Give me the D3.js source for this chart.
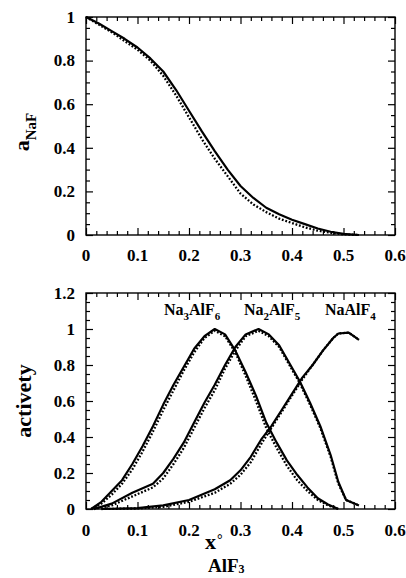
<!DOCTYPE html>
<html><head><meta charset="utf-8">
<script src="https://cdn.jsdelivr.net/npm/d3@7"></script>
<style>
html,body{margin:0;padding:0;background:#fff;}
svg{display:block;}
text{font-family:"Liberation Serif","Times New Roman",serif;font-weight:bold;fill:#000;}
</style></head>
<body>
<script>
// ---------- data ----------
const xTicks = [0, 0.1, 0.2, 0.3, 0.4, 0.5, 0.6];
const xTickLabels = ["0", "0.1", "0.2", "0.3", "0.4", "0.5", "0.6"];
const topYTicks = [0, 0.2, 0.4, 0.6, 0.8, 1];
const topYTickLabels = ["0", "0.2", "0.4", "0.6", "0.8", "1"];
const botYTicks = [0, 0.2, 0.4, 0.6, 0.8, 1, 1.2];
const botYTickLabels = ["0", "0.2", "0.4", "0.6", "0.8", "1", "1.2"];

// top panel: a_NaF
const naF_x = [0, 0.025, 0.05, 0.075, 0.1, 0.125, 0.15, 0.175, 0.2, 0.225, 0.25, 0.275, 0.3, 0.325, 0.35, 0.375, 0.4, 0.425, 0.45, 0.475, 0.5, 0.53];
const naF_solid = [1.0, 0.97, 0.935, 0.9, 0.86, 0.81, 0.75, 0.665, 0.57, 0.475, 0.385, 0.3, 0.225, 0.17, 0.125, 0.095, 0.07, 0.05, 0.03, 0.015, 0.005, 0.0];
const naF_dotted = [1.0, 0.965, 0.93, 0.89, 0.85, 0.8, 0.73, 0.64, 0.54, 0.44, 0.35, 0.27, 0.19, 0.14, 0.105, 0.075, 0.055, 0.035, 0.02, 0.01, 0.003, 0.0];

// bottom panel: activities
const na3_x = [0.01, 0.03, 0.05, 0.07, 0.09, 0.11, 0.13, 0.15, 0.17, 0.19, 0.21, 0.23, 0.25, 0.27, 0.29, 0.31, 0.33, 0.35, 0.37, 0.39, 0.41, 0.43, 0.45, 0.47, 0.49];
const na3_solid = [0, 0.04, 0.1, 0.16, 0.25, 0.35, 0.46, 0.58, 0.69, 0.79, 0.89, 0.96, 1.0, 0.97, 0.88, 0.76, 0.63, 0.48, 0.37, 0.27, 0.19, 0.12, 0.06, 0.025, 0.0];
const na3_dotted = [0, 0.03, 0.08, 0.14, 0.22, 0.32, 0.43, 0.55, 0.66, 0.77, 0.87, 0.95, 0.99, 0.96, 0.87, 0.74, 0.6, 0.45, 0.34, 0.24, 0.16, 0.1, 0.05, 0.02, 0.0];

const na2_x = [0.015, 0.05, 0.09, 0.13, 0.15, 0.17, 0.19, 0.21, 0.23, 0.25, 0.27, 0.29, 0.31, 0.335, 0.355, 0.375, 0.395, 0.415, 0.435, 0.455, 0.475, 0.49, 0.505, 0.53];
const na2_solid = [0, 0.03, 0.09, 0.14, 0.2, 0.28, 0.37, 0.48, 0.59, 0.69, 0.8, 0.9, 0.97, 1.0, 0.97, 0.91, 0.81, 0.71, 0.59, 0.46, 0.3, 0.15, 0.05, 0.02];
const na2_dotted = [0, 0.02, 0.07, 0.12, 0.17, 0.25, 0.34, 0.45, 0.56, 0.66, 0.78, 0.88, 0.96, 0.99, 0.96, 0.9, 0.8, 0.7, 0.58, 0.45, 0.29, 0.14, 0.05, 0.02];

const na1_x = [0.03, 0.1, 0.15, 0.2, 0.25, 0.28, 0.3, 0.32, 0.34, 0.36, 0.38, 0.4, 0.42, 0.44, 0.46, 0.48, 0.49, 0.51, 0.52, 0.53];
const na1_solid = [0, 0.005, 0.02, 0.05, 0.11, 0.16, 0.215, 0.29, 0.385, 0.46, 0.55, 0.64, 0.73, 0.8, 0.88, 0.95, 0.975, 0.98, 0.96, 0.94];
const na1_dotted = [0, 0.003, 0.012, 0.04, 0.09, 0.14, 0.19, 0.26, 0.36, 0.45, 0.54, 0.63, 0.72, 0.8, 0.88, 0.95, 0.975, 0.98, 0.96, 0.94];

// ---------- drawing ----------
const W = 406, H = 578;
const svg = d3.select("body").append("svg").attr("width", W).attr("height", H);

const x = d3.scaleLinear().domain([0, 0.6]).range([86, 395]);
const yTop = d3.scaleLinear().domain([0, 1]).range([235, 17]);
const yBot = d3.scaleLinear().domain([0, 1.2]).range([509, 293]);

const xMinor = d3.range(0, 31).map(i => i * 0.02).filter(v => !xTicks.some(t => Math.abs(t - v) < 1e-9));

function panel(yScale, yTicks, yLabels, yMax, xLabY) {
  const g = svg.append("g");
  const minorY = d3.range(0, Math.round(yMax / 0.05) + 1).map(i => i * 0.05).filter(v => !yTicks.some(t => Math.abs(t - v) < 1e-9));
  const [x0, x1] = x.range();
  const [y0, y1] = yScale.range();
  const MAJ = 7, MIN = 4;
  function axis(gen, tr, vals, size) {
    const a = g.append("g").attr("transform", tr)
      .call(gen.tickValues(vals).tickSize(size).tickFormat(""));
    a.select(".domain").remove();
    a.selectAll("line").attr("stroke", "#000").attr("stroke-width", 1.2);
  }
  // inward ticks on four sides
  axis(d3.axisBottom(x), `translate(0,${y0})`, xTicks, -MAJ);
  axis(d3.axisBottom(x), `translate(0,${y0})`, xMinor, -MIN);
  axis(d3.axisTop(x), `translate(0,${y1})`, xTicks, -MAJ);
  axis(d3.axisTop(x), `translate(0,${y1})`, xMinor, -MIN);
  axis(d3.axisLeft(yScale), `translate(${x0},0)`, yTicks, -MAJ);
  axis(d3.axisLeft(yScale), `translate(${x0},0)`, minorY, -MIN);
  axis(d3.axisRight(yScale), `translate(${x1},0)`, yTicks, -MAJ);
  axis(d3.axisRight(yScale), `translate(${x1},0)`, minorY, -MIN);
  // frame
  g.append("rect").attr("x", x0).attr("y", y1).attr("width", x1 - x0).attr("height", y0 - y1)
    .attr("fill", "none").attr("stroke", "#000").attr("stroke-width", 1.4);
  // labels
  g.append("g").selectAll("text").data(xTicks).join("text")
    .attr("x", d => x(d)).attr("y", xLabY).attr("text-anchor", "middle")
    .style("font-size", "17px").text((d, i) => xTickLabels[i]);
  g.append("g").selectAll("text").data(yTicks).join("text")
    .attr("x", 75).attr("y", d => yScale(d)).attr("dy", "0.34em").attr("text-anchor", "end")
    .style("font-size", "17px").text((d, i) => yLabels[i]);
  return g;
}

const gTop = panel(yTop, topYTicks, topYTickLabels, 1, 261);
const gBot = panel(yBot, botYTicks, botYTickLabels, 1.2, 536);

function drawLine(g, yScale, xs, ys, dashed) {
  const line = d3.line().x(d => x(d[0])).y(d => yScale(d[1]));
  const p = g.append("path").datum(xs.map((v, i) => [v, ys[i]]))
    .attr("d", line).attr("fill", "none").attr("stroke", "#000")
    .attr("stroke-linejoin", "round");
  if (dashed) p.attr("stroke-width", 2.3).attr("stroke-dasharray", "1.8,1.8");
  else p.attr("stroke-width", 2.2);
}

drawLine(gTop, yTop, naF_x, naF_dotted, true);
drawLine(gTop, yTop, naF_x, naF_solid, false);

drawLine(gBot, yBot, na3_x, na3_dotted, true);
drawLine(gBot, yBot, na2_x, na2_dotted, true);
drawLine(gBot, yBot, na1_x, na1_dotted, true);
drawLine(gBot, yBot, na3_x, na3_solid, false);
drawLine(gBot, yBot, na2_x, na2_solid, false);
drawLine(gBot, yBot, na1_x, na1_solid, false);

// compound labels
function formula(xp, yp, parts) {
  const t = svg.append("text").attr("x", xp).attr("y", yp).style("font-size", "16px");
  let prevSub = false;
  parts.forEach(([s, isSub]) => {
    const ts = t.append("tspan").text(s);
    if (isSub) ts.attr("dy", prevSub ? 0 : 5).style("font-size", "11px");
    else ts.attr("dy", prevSub ? -5 : 0);
    prevSub = !!isSub;
  });
}
formula(164, 315, [["Na"], ["3", 1], ["AlF"], ["6", 1]]);
formula(244, 315, [["Na"], ["2", 1], ["AlF"], ["5", 1]]);
formula(325, 315, [["NaAlF"], ["4", 1]]);

// y axis titles
const t1 = svg.append("text").attr("transform", "translate(29,132) rotate(-90)")
  .attr("text-anchor", "middle").style("font-size", "22px");
t1.append("tspan").text("a");
t1.append("tspan").attr("dy", 7).style("font-size", "15px").text("NaF");

svg.append("text").attr("transform", "translate(31,401) rotate(-90)")
  .attr("text-anchor", "middle").style("font-size", "22px").text("activety");

// x axis title (single text element: x, degree sign, subscript AlF3)
const xt = svg.append("text").attr("x", 205).attr("y", 549).style("font-size", "22px");
xt.append("tspan").text("x");
xt.append("tspan").attr("dx", 1).attr("dy", -5).style("font-size", "14px").text("°");
xt.append("tspan").attr("x", 208).attr("dy", 28).style("font-size", "19px").text("AlF");
xt.append("tspan").attr("dy", 1).style("font-size", "12px").text("3");
</script>
</body></html>
